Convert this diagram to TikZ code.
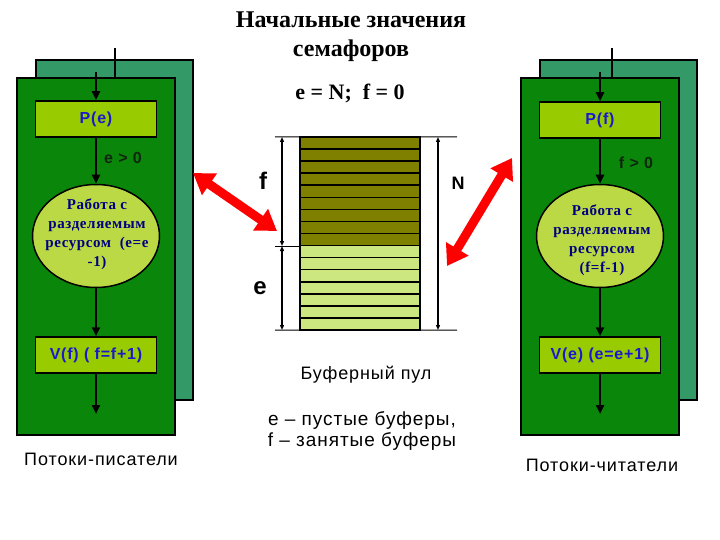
\documentclass[tikz,border=0pt]{standalone}
\usepackage{fontspec}
\setmainfont{Liberation Serif}
\setsansfont{Liberation Sans}
\newfontfamily\widesans[LetterSpace=5]{Liberation Sans}
\newfontfamily\wideserif[LetterSpace=4]{Liberation Serif}
\usetikzlibrary{arrows.meta,positioning,shapes.geometric}
\definecolor{panelback}{HTML}{339966}
\definecolor{panelfront}{HTML}{0A870A}
\definecolor{opfill}{HTML}{99CC00}
\definecolor{workfill}{HTML}{BBD944}
\definecolor{opblue}{HTML}{1A1ACC}
\definecolor{worknavy}{HTML}{000080}
\definecolor{fullbuf}{HTML}{7F7F00}
\definecolor{emptybuf}{HTML}{CCE680}
\definecolor{condcol}{HTML}{0F260F}
\begin{document}
\begin{tikzpicture}[x=1pt,y=-1pt,
  back/.style={draw=black,line width=2.5pt,fill=panelback},
  front/.style={draw=black,line width=2.5pt,fill=panelfront},
  op/.style={draw=black,line width=1.5pt,fill=opfill,minimum width=121pt,minimum height=36pt,inner sep=0pt,font=\widesans\bfseries\fontsize{16}{18}\selectfont,text=opblue},
  work/.style={ellipse,draw=black,line width=1.5pt,fill=workfill,minimum width=127pt,minimum height=103pt,inner sep=0pt},
  worktext/.style={align=center,font=\wideserif\bfseries\fontsize{15}{19}\selectfont,text=worknavy},
  cond/.style={font=\widesans\bfseries\fontsize{16}{18}\selectfont,text=condcol},
  caption/.style={font=\widesans\fontsize{18}{21}\selectfont},
  flow/.style={->,line width=2.5pt},
  dim/.style={{Triangle[length=5pt,width=4pt]}-{Triangle[length=5pt,width=4pt]},line width=1.5pt},
  swap/.style={{Triangle[length=20pt,width=25pt]}-{Triangle[length=20pt,width=25pt]},red,line width=9pt},
  >={Triangle[length=9pt,width=8pt]}]
  \useasboundingbox (0,0) rectangle (720,540);

  % title
  \node[font=\bfseries\fontsize{24}{29}\selectfont,align=center] (title) at (351,37) {Начальные значения\\семафоров};
  \node[font=\bfseries\fontsize{22}{24}\selectfont] (init) at (350,93) {e = N;\ \ f = 0};

  % writers
  \draw[back] (36,60) rectangle (193,400);
  \draw[line width=2.5pt] (115,48) -- (115,78);
  \draw[front] (17,78) rectangle (175,435);
  \coordinate (wtop) at (96,72);
  \node[op] (pe) at (96,119) {P(e)};
  \node[work] (wl) at (96,236) {};
  \node[worktext] (wlt) at (97,234) {Работа с\\разделяемым\\ресурсом\ \ (e=e\\-1)};
  \node[op] (vf) at (96,355) {V(f) ( f=f+1)};
  \coordinate (wend) at (96,414);
  \draw[flow] (wtop) -- (pe);
  \draw[flow] (pe) -- (wl);
  \draw[flow] (wl) -- (vf);
  \draw[flow] (vf) -- (wend);
  \node[cond] (ce) at (123,158) {e > 0};
  \node[caption] (writers) at (101,459) {Потоки-писатели};

  % readers
  \draw[back] (540,60) rectangle (697,400);
  \draw[line width=2.5pt] (612,48) -- (612,78);
  \draw[front] (521,78) rectangle (679,435);
  \coordinate (rtop) at (600,72);
  \node[op] (pf) at (600,120) {P(f)};
  \node[work] (rl) at (600,236) {};
  \node[worktext] (rlt) at (602,240) {Работа с\\разделяемым\\ресурсом\\(f=f-1)};
  \node[op] (ve) at (600,355) {V(e) (e=e+1)};
  \coordinate (rend) at (600,414);
  \draw[flow] (rtop) -- (pf);
  \draw[flow] (pf) -- (rl);
  \draw[flow] (rl) -- (ve);
  \draw[flow] (ve) -- (rend);
  \node[cond] (cf) at (636,163) {f > 0};
  \node[caption] (readers) at (602,465) {Потоки-читатели};

  % buffer pool
  \node[minimum width=120pt,minimum height=193pt,inner sep=0pt] (pool) at (360,233.5) {};
  \foreach \i in {0,...,15}{
    \pgfmathsetmacro{\ya}{137+\i*12.0625}
    \pgfmathsetmacro{\yb}{137+(\i+1)*12.0625}
    \ifnum\i<9
      \draw[line width=1.5pt,fill=fullbuf] (300,\ya) rectangle (420,\yb);
    \else
      \draw[line width=1.5pt,fill=emptybuf] (300,\ya) rectangle (420,\yb);
    \fi
  }
  \coordinate (ftop) at (282,137);
  \coordinate (fmid) at (282,246);
  \coordinate (fbot) at (282,330);
  \coordinate (ntop) at (438,137);
  \coordinate (nbot) at (438,330);
  \draw[line width=1pt] (275,137) -- (pool.north west);
  \draw[line width=1pt] (275,246) -- (300,246);
  \draw[line width=1pt] (275,330) -- (pool.south west);
  \draw[line width=1pt] (pool.north east) -- (457,137);
  \draw[line width=1pt] (pool.south east) -- (457,330);
  \draw[dim] (ftop) -- (fmid);
  \draw[dim] (fmid) -- (fbot);
  \draw[dim] (ntop) -- (nbot);
  \node[font=\sffamily\bfseries\fontsize{24}{26}\selectfont] (fl) at (263,181) {f};
  \node[font=\sffamily\bfseries\fontsize{24}{26}\selectfont] (el) at (260,288) {e};
  \node[font=\sffamily\bfseries\fontsize{18}{20}\selectfont] (nl) at (458,183) {N};
  \node[caption] (poolname) at (366,375) {Буферный пул};
  \node[font=\widesans\fontsize{19}{21}\selectfont,align=center] (legend) at (362,431) {e – пустые буферы,\\f – занятые буферы};

  % access arrows
  \coordinate (la) at (193,173);
  \coordinate (lb) at (277,231);
  \coordinate (ra) at (512,158);
  \coordinate (rb) at (447,266);
  \draw[swap] (la) -- (lb);
  \draw[swap] (ra) -- (rb);
\end{tikzpicture}
\end{document}
